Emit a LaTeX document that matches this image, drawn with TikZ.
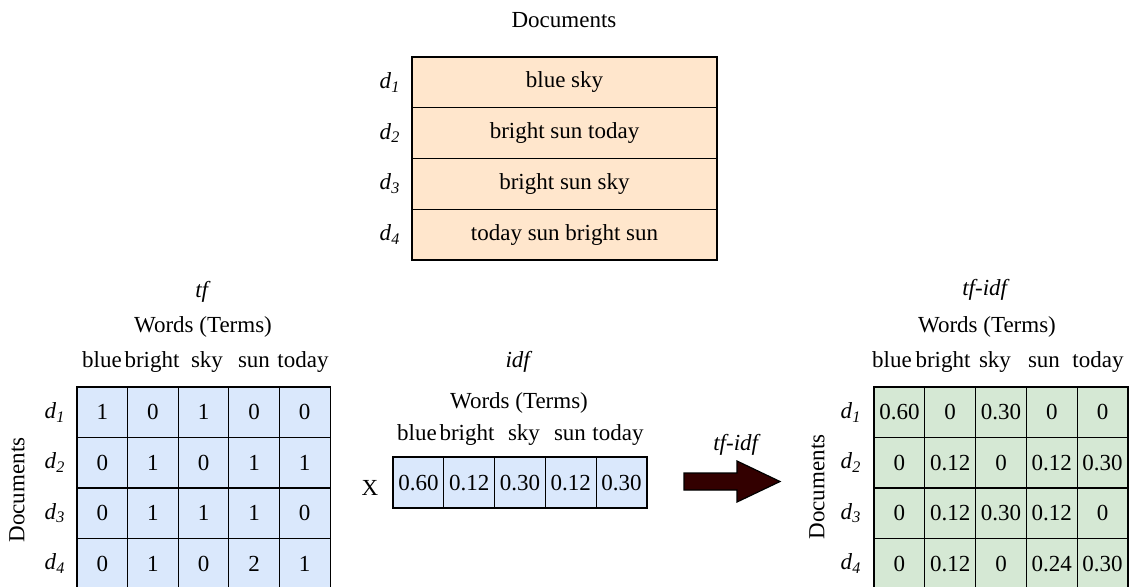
\documentclass[tikz,border=0pt]{standalone}
\usepackage{fontspec}
\setmainfont{Liberation Serif}

\definecolor{docfill}{HTML}{FFE6CC}
\definecolor{tffill}{HTML}{DAE8FC}
\definecolor{tfidffill}{HTML}{D5E8D4}
\definecolor{arrowfill}{HTML}{330000}

\newcommand{\dlab}[1]{\textit{d}\textsubscript{\textit{#1}}}

\begin{document}
\begin{tikzpicture}[x=0.5pt, y=-0.5pt,
    font=\fontsize{11.5}{14}\selectfont,
    cell/.style={draw, line width=0.6pt, inner sep=0pt,
      minimum width=25.4pt, minimum height=25.25pt},
    docrow/.style={draw, line width=0.6pt, fill=docfill, inner sep=0pt,
      minimum width=152.5pt, minimum height=25.4pt},
    lbl/.style={anchor=base, inner sep=0pt}]
  % page size of the reference
  \useasboundingbox (0,0) rectangle (1129,586);

  % documents table
  \node[lbl] (doctitle) at (564,27) {Documents};
  \foreach \txt [count=\r] in {blue sky, bright sun today, bright sun sky, today sun bright sun} {
    \node[docrow] (doc-\r) at (564.5,{57+50.75*(\r-0.5)}) {\txt};
    \node (docd-\r) at (390,{57+50.75*(\r-0.5)}) {\dlab{\r}};
  }

  % tf matrix
  \node[lbl] (tftitle) at (203,297) {\textit{tf}};
  \node[lbl] (tfwords) at (203,332) {Words (Terms)};
  \foreach \w/\x [count=\c] in {blue/102, bright/152, sky/207, sun/254, today/303}
    \node[lbl] (tfh-\c) at (\x,367) {\w};
  \foreach \row [count=\r] in {{1,0,1,0,0},{0,1,0,1,1},{0,1,1,1,0},{0,1,0,2,1}} {
    \node (tfd-\r) at (55,{387+50.5*(\r-0.5)}) {\dlab{\r}};
    \foreach \v [count=\c] in \row
      \node[cell, fill=tffill] (tf-\r-\c) at ({77+50.6*(\c-0.5)},{387+50.5*(\r-0.5)}) {\v};
  }
  \node[rotate=90] (tfdocs) at (17,490) {Documents};

  \node[lbl] (times) at (370,495) {X};

  % idf vector
  \node[lbl] (idftitle) at (519,367) {\textit{idf}};
  \node[lbl] (idfwords) at (519,408) {Words (Terms)};
  \foreach \w/\x [count=\c] in {blue/417, bright/467, sky/524, sun/570, today/618}
    \node[lbl] (idfh-\c) at (\x,440) {\w};
  \foreach \v [count=\c] in {0.60,0.12,0.30,0.12,0.30}
    \node[cell, fill=tffill, minimum height=25.5pt] (idf-\c) at ({393+50.8*(\c-0.5)},482.5) {\v};

  % product arrow
  \filldraw[fill=arrowfill, line width=0.6pt] (684,473) -- (737,473) -- (737,461)
    -- (780,481.5) -- (737,502) -- (737,490) -- (684,490) -- cycle;
  \node[lbl] (arrowlbl) at (737,450) {\textit{tf-idf}};

  % tf-idf matrix
  \node[lbl] (tfidftitle) at (986,295) {\textit{tf-idf}};
  \node[lbl] (tfidfwords) at (987,332) {Words (Terms)};
  \foreach \w/\x [count=\c] in {blue/892, bright/943, sky/995, sun/1044, today/1098}
    \node[lbl] (tfidfh-\c) at (\x,367) {\w};
  \foreach \row [count=\r] in {{0.60,0,0.30,0,0},{0,0.12,0,0.12,0.30},{0,0.12,0.30,0.12,0},{0,0.12,0,0.24,0.30}} {
    \node (tfidfd-\r) at (851,{387+50.5*(\r-0.5)}) {\dlab{\r}};
    \foreach \v [count=\c] in \row
      \node[cell, fill=tfidffill] (tfidf-\r-\c) at ({874+50.8*(\c-0.5)},{387+50.5*(\r-0.5)}) {\v};
  }
  \node[rotate=90] (tfidfdocs) at (817,487) {Documents};
\end{tikzpicture}
\end{document}
